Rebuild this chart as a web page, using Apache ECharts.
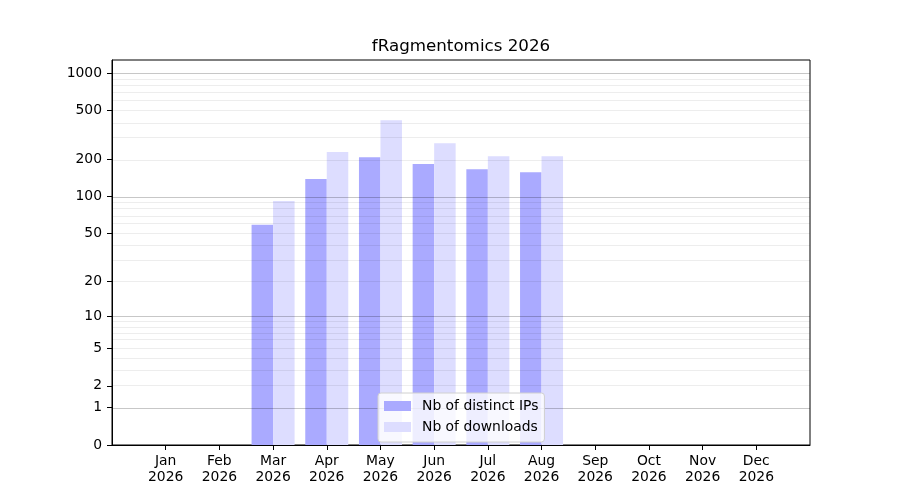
<!DOCTYPE html>
<html>
<head>
<meta charset="utf-8">
<script src="https://cdn.jsdelivr.net/npm/echarts@6/dist/echarts.min.js"></script>
<style>html,body{margin:0;padding:0;background:#fff}#c{width:900px;height:500px}</style>
</head>
<body>
<div id="c"></div>
<script>
const months = ['Jan','Feb','Mar','Apr','May','Jun','Jul','Aug','Sep','Oct','Nov','Dec'];
const year = '2026';
const distinctIPs = [0, 0, 59, 139, 209, 184, 167, 158, 0, 0, 0, 0];
const downloads   = [0, 0, 92, 230, 417, 271, 213, 213, 0, 0, 0, 0];
const yTickLabels = [0, 1, 2, 5, 10, 20, 50, 100, 200, 500, 1000];
const majorGrid = [1, 10, 100, 1000];
const minorGrid = [2,3,4,5,6,7,8,9,20,30,40,50,60,70,80,90,200,300,400,500,600,700,800,900];

const tf = v => Math.log10(1 + v);
const cats = [''].concat(months.map(m => m + '\n' + year)).concat(['']);
const pad = arr => [null].concat(arr.map(v => tf(v))).concat([null]);

const FONT = 'DejaVu Sans';
const chart = echarts.init(document.getElementById('c'), null, {renderer: 'canvas'});
const gridLines = majorGrid.map(v => ({yAxis: tf(v), lineStyle: {color: 'rgba(0,0,0,0.22)', width: 1, type: 'solid'}}))
  .concat(minorGrid.map(v => ({yAxis: tf(v), lineStyle: {color: 'rgba(0,0,0,0.07)', width: 1, type: 'solid'}})));

chart.setOption({
  animation: false,
  title: {
    text: 'fRagmentomics 2026',
    left: 461, top: 38, textAlign: 'center', padding: 0,
    textStyle: {fontFamily: FONT, fontSize: 16.7, fontWeight: 'normal', color: '#000'}
  },
  legend: {
    orient: 'vertical', left: 378, top: 393, z: 10,
    backgroundColor: 'rgba(255,255,255,0.8)', borderColor: '#d0d0d0', borderWidth: 1, borderRadius: 3,
    padding: [6, 6, 8, 6], itemWidth: 27, itemHeight: 10, itemGap: 7,
    icon: 'rect',
    textStyle: {fontFamily: FONT, fontSize: 13.9, color: '#000', padding: [0, 0, 0, 6]},
    data: ['Nb of distinct IPs', 'Nb of downloads']
  },
  grid: {left: 112, right: 90, top: 60, bottom: 55, show: true, borderColor: '#000', borderWidth: 1, containLabel: false},
  xAxis: {
    type: 'category', data: cats, boundaryGap: false,
    axisLine: {show: true, lineStyle: {color: '#000', width: 1}},
    axisTick: {show: true, length: 5, inside: false, lineStyle: {color: '#000', width: 1},
      interval: (i, v) => v !== ''},
    axisLabel: {interval: 0, margin: 8, fontFamily: FONT, fontSize: 13.9, color: '#000', lineHeight: 16},
    splitLine: {show: false}
  },
  yAxis: {
    type: 'value', min: 0, max: 3.107,
    axisLine: {show: true, lineStyle: {color: '#000', width: 1}},
    axisTick: {show: true, length: 5, lineStyle: {color: '#000', width: 1}, customValues: yTickLabels.map(tf)},
    axisLabel: {margin: 10, fontFamily: FONT, fontSize: 13.9, color: '#000',
      customValues: yTickLabels.map(tf),
      formatter: v => String(Math.round(Math.pow(10, v) - 1))},
    splitLine: {show: false}
  },
  series: [
    {name: 'Nb of distinct IPs', type: 'bar', data: pad(distinctIPs), barWidth: 21.5, barGap: '0%',
      itemStyle: {color: '#aaaaff'}, z: 2},
    {name: 'Nb of downloads', type: 'bar', data: pad(downloads), barWidth: 21.5, barGap: '0%',
      itemStyle: {color: '#ddddff'}, z: 2},
    {name: 'grid', type: 'line', data: [], z: 3, silent: true,
      markLine: {silent: true, symbol: ['none', 'none'], label: {show: false}, data: gridLines}}
  ]
});
</script>
</body>
</html>
